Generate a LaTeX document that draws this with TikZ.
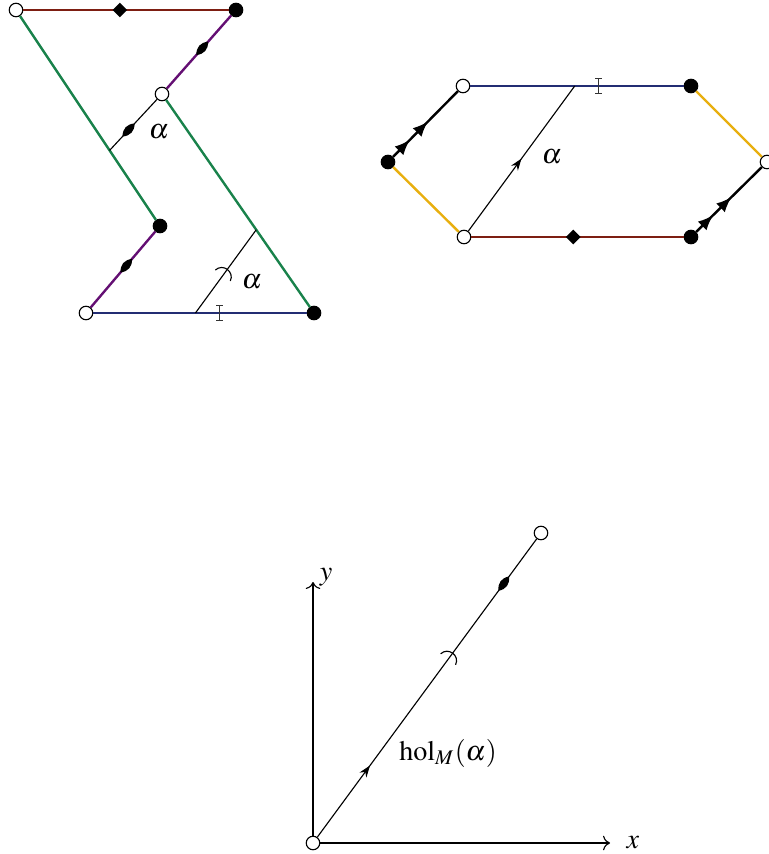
\documentclass[tikz,border=0pt]{standalone}
\usepackage{mathptmx}
\usetikzlibrary{calc,decorations.markings,arrows.meta}

\definecolor{greenc}{RGB}{25,130,75}
\definecolor{purplec}{RGB}{100,15,115}
\definecolor{navyc}{RGB}{35,45,115}
\definecolor{maroonc}{RGB}{125,30,18}
\definecolor{yellowc}{RGB}{232,175,15}

\tikzset{
  opendot/.style={circle,draw,fill=white,inner sep=0pt,minimum size=4.8pt,line width=0.4pt},
  fulldot/.style={circle,draw,fill=black,inner sep=0pt,minimum size=4.8pt,line width=0.4pt},
  coloredge/.style={draw=#1,line width=0.85pt},
  thinline/.style={draw=black,line width=0.4pt},
  axis/.style={draw=black,line width=0.4pt},
  lensmark/.style={postaction={decorate,decoration={markings,mark=at position #1 with
    {\fill[black] (-3.2pt,0) .. controls (-1pt,1.9pt) and (1pt,1.9pt) .. (3.2pt,0)
       .. controls (1pt,-1.9pt) and (-1pt,-1.9pt) .. (-3.2pt,0) -- cycle;}}}},
  diamondmark/.style={postaction={decorate,decoration={markings,mark=at position #1 with
    {\fill[black] (-2.6pt,0) -- (0,2.6pt) -- (2.6pt,0) -- (0,-2.6pt) -- cycle;}}}},
  ibarmark/.style={postaction={decorate,decoration={markings,mark=at position #1 with
    {\fill[black!80] (-0.25pt,-2.8pt) rectangle (0.25pt,2.8pt);
     \fill[black!80] (-1.3pt,2.4pt) rectangle (1.3pt,2.9pt);
     \fill[black!80] (-1.3pt,-2.4pt) rectangle (1.3pt,-2.9pt);}}}},
  arcmark/.style={postaction={decorate,decoration={markings,mark=at position #1 with
    {\draw[black,line width=0.4pt] (-1.8pt,3.3pt) .. controls (1.8pt,2.6pt) and (1.8pt,-2.6pt) .. (-1.8pt,-3.3pt);}}}},
  midarrow/.style={postaction={decorate,decoration={markings,mark=at position #1 with
    {\arrow{Stealth[length=4.2pt,width=3pt]}}}}},
  twoarrows/.style={postaction={decorate,decoration={markings,
    mark=at position 0.26 with {\arrow{Latex[length=5.5pt,width=4.4pt]}},
    mark=at position 0.54 with {\arrow{Latex[length=5.5pt,width=4.4pt]}}}}}
}

\begin{document}
\begin{tikzpicture}[x=0.0125cm,y=-0.0125cm]
  \useasboundingbox (0,0) rectangle (768,854);

  % Left piece of the surface
  \node[opendot] (tl) at (16,10) {};
  \node[fulldot] (tr) at (236,10) {};
  \node[opendot] (cm) at (162,94) {};
  \node[fulldot] (br) at (314,313) {};
  \node[opendot] (bl) at (86,313) {};
  \node[fulldot] (cl) at (160,226) {};

  \draw[coloredge=maroonc,diamondmark=0.47] (tl) -- (tr);
  \draw[coloredge=purplec,lensmark=0.45] (tr) -- (cm);
  \draw[coloredge=greenc] (cm) -- (br);
  \draw[coloredge=navyc,ibarmark=0.59] (bl) -- (br);
  \draw[coloredge=purplec,lensmark=0.45] (cl) -- (bl);
  \draw[coloredge=greenc] (tl) -- (cl);

  % Saddle connection alpha, two pieces
  \coordinate (a1) at ($(tl)!0.65!(cl)$);
  \coordinate (a2) at ($(bl)!0.48!(br)$);
  \coordinate (a3) at ($(cm)!0.62!(br)$);
  \draw[thinline,lensmark=0.4] (a1) -- (cm);
  \draw[thinline,arcmark=0.5] (a2) -- (a3);
  \node (alab1) at (159,132) {$\alpha$};
  \node (alab2) at (252,282) {$\alpha$};

  % Hexagon
  \node[fulldot] (hF) at (388,162) {};
  \node[opendot] (hA) at (463,86) {};
  \node[fulldot] (hB) at (691,86) {};
  \node[opendot] (hC) at (767,162) {};
  \node[fulldot] (hD) at (691,237) {};
  \node[opendot] (hE) at (464,237) {};

  \draw[coloredge=navyc,ibarmark=0.6] (hA) -- (hB);
  \draw[coloredge=yellowc] (hB) -- (hC);
  \draw[coloredge=black,twoarrows] (hD) -- (hC);
  \draw[coloredge=maroonc,diamondmark=0.48] (hE) -- (hD);
  \draw[coloredge=yellowc] (hF) -- (hE);
  \draw[coloredge=black,twoarrows] (hF) -- (hA);

  \coordinate (a4) at ($(hA)!0.49!(hB)$);
  \draw[thinline,midarrow=0.5] (hE) -- (a4);
  \node (alab3) at (552,157) {$\alpha$};

  % Holonomy vector
  \node[opendot] (O) at (313,843) {};
  \node[opendot] (H) at (541,533) {};
  \coordinate (xend) at (610,843);
  \coordinate (yend) at (313,582);
  \draw[axis,->] (O) -- (xend);
  \draw[axis,->] (O) -- (yend);
  \node (xlab) at (633,843) {$x$};
  \node (ylab) at (326,577) {$y$};

  \draw[thinline,midarrow=0.24,arcmark=0.61,lensmark=0.85] (O) -- (H);
  \node (hlab) at (448,753) {$\mathrm{hol}_M(\alpha)$};
\end{tikzpicture}
\end{document}
